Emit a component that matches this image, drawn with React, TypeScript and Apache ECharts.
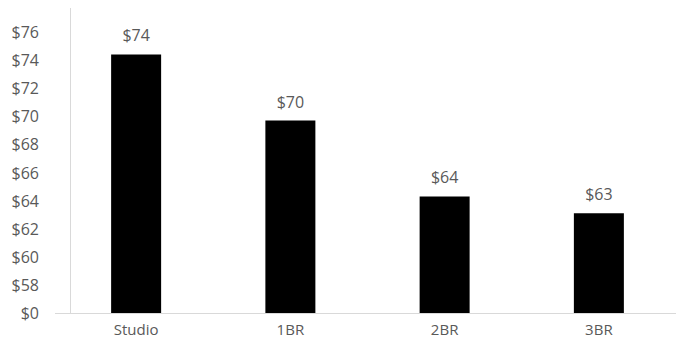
import React, { useEffect, useRef } from "react";
import * as echarts from "echarts";

const categories = ["Studio", "1BR", "2BR", "3BR"];
const rentValues = [74.4, 69.7, 64.3, 63.1];
const yTickValues = [56, 58, 60, 62, 64, 66, 68, 70, 72, 74, 76];
const yTickLabels = ["$0", "$58", "$60", "$62", "$64", "$66", "$68", "$70", "$72", "$74", "$76"];

export default function App() {
  const ref = useRef<HTMLDivElement>(null);
  useEffect(() => {
    if (!ref.current) return;
    const chart = echarts.init(ref.current, null, { renderer: "svg" });
    const labelColor = "#595959";
    chart.setOption({
      animation: false,
      grid: { left: 59, right: -7, top: 32, bottom: 26, containLabel: false },
      xAxis: {
        type: "category",
        data: categories,
        axisLine: { show: true, lineStyle: { color: "#d9d9d9", width: 1 } },
        axisTick: { show: false },
        axisLabel: { color: labelColor, fontFamily: "Open Sans", fontSize: 15, margin: 8 },
      },
      yAxis: {
        type: "value",
        min: yTickValues[0],
        max: yTickValues[yTickValues.length - 1],
        interval: 2,
        axisLine: { show: false },
        axisTick: { show: false },
        splitLine: { show: false },
        axisLabel: {
          color: labelColor,
          fontFamily: "Open Sans",
          fontSize: 16,
          margin: 20,
          formatter: (v: number) => {
            const i = yTickValues.indexOf(v);
            return i >= 0 ? yTickLabels[i] : "";
          },
        },
      },
      graphic: [
        {
          type: "line",
          shape: { x1: 70.5, y1: 8, x2: 70.5, y2: 313 },
          style: { stroke: "#d9d9d9", lineWidth: 1 },
          silent: true,
        },
        {
          type: "line",
          shape: { x1: 55, y1: 313.5, x2: 60, y2: 313.5 },
          style: { stroke: "#d9d9d9", lineWidth: 1 },
          silent: true,
        },
      ],
      series: [
        {
          type: "bar",
          data: rentValues,
          barWidth: 50,
          itemStyle: { color: "#000000" },
          label: {
            show: true,
            position: "top",
            distance: 11,
            color: labelColor,
            fontFamily: "Open Sans",
            fontSize: 16,
            formatter: (p: any) => "$" + Math.round(p.value),
          },
        },
      ],
    });
    return () => chart.dispose();
  }, []);
  return <div ref={ref} style={{ position: "fixed", left: 0, top: 0, width: 676, height: 339, background: "#fff" }} />;
}
